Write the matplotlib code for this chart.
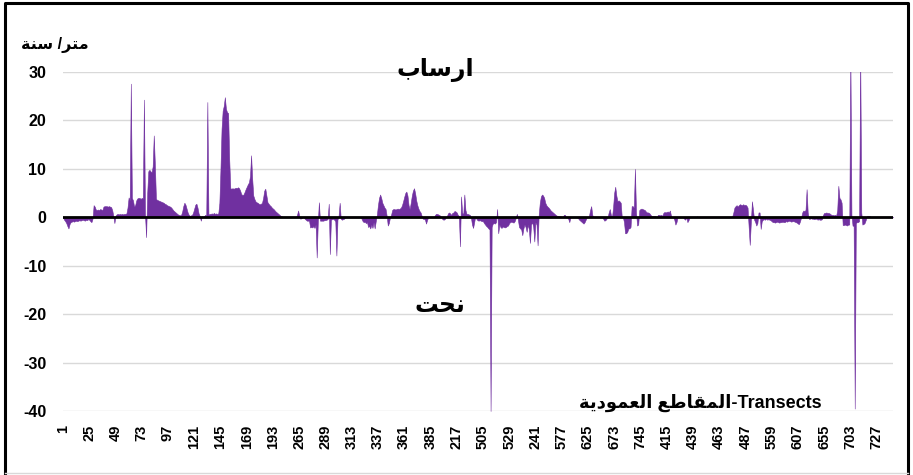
import matplotlib.pyplot as plt
from matplotlib.lines import Line2D
import numpy as np

plt.rcParams['font.family'] = ['Liberation Sans', 'DejaVu Sans']
plt.rcParams['font.weight'] = 'bold'
plt.rcParams['axes.unicode_minus'] = False

# x tick labels (transect numbers, every 24th position)
tick_labels = ["1", "25", "49", "73", "97", "121", "145", "169", "193", "265",
               "289", "313", "337", "361", "385", "217", "505", "529", "241",
               "577", "625", "673", "745", "415", "439", "463", "487", "559",
               "607", "655", "703", "727"]

# shoreline change rate (m/year), one value per transect position, rows of 24
rate = [
    0.0, -0.5, -0.8, -1.2, -1.8, -2.3, -1.4, -1.0, -0.9, -0.8, -0.9, -0.8, -0.7, -0.8, -0.7, -0.6, -0.7, -0.6, -0.5, -0.6, -0.7, -0.5, -0.6, -0.4,
    -0.5, -0.8, -1.0, -0.3, 2.5, 2.2, 1.6, 1.5, 1.6, 1.5, 1.7, 1.6, 1.5, 2.2, 2.3, 2.3, 2.3, 2.2, 2.3, 2.2, 2.1, 1.5, 0.3, -1.2,
    0.3, 0.6, 0.7, 0.6, 0.7, 0.6, 0.7, 0.6, 0.7, 0.7, 0.8, 2.0, 4.1, 3.5, 27.6, 4.0, 3.5, 2.2, 2.5, 3.5, 3.9, 4.0, 4.0, 3.8,
    4.0, 3.9, 24.3, 0.5, -4.1, 5.0, 9.5, 9.8, 9.5, 9.3, 10.5, 16.9, 11.0, 3.8, 3.6, 3.5, 3.4, 3.3, 3.2, 3.1, 3.0, 2.8, 2.7, 2.5,
    2.4, 2.3, 2.2, 2.0, 1.7, 1.4, 1.2, 1.0, 0.8, 0.6, 0.5, 0.4, 0.5, 1.2, 2.3, 3.0, 2.6, 1.8, 1.0, 0.5, 0.3, 0.4, 0.5, 1.0,
    1.8, 2.6, 2.8, 2.0, 0.8, 0.3, -0.7, 0.2, 0.1, 0.2, 0.5, 0.3, 23.8, 0.5, 0.7, 0.7, 0.8, 0.7, 0.9, 0.7, 0.8, 0.7, 0.8, 3.0,
    10.0, 18.3, 22.0, 23.0, 24.8, 22.4, 21.7, 21.5, 12.0, 6.0, 5.9, 6.0, 5.9, 6.0, 6.1, 6.0, 6.2, 6.0, 5.5, 4.8, 4.6, 4.7, 5.2, 5.8,
    6.3, 6.8, 7.2, 8.5, 12.8, 8.0, 4.5, 3.8, 3.3, 3.1, 3.0, 2.8, 2.7, 2.8, 3.0, 4.0, 5.5, 5.9, 4.5, 3.1, 2.8, 2.5, 2.3, 2.0,
    1.8, 1.6, 1.3, 1.1, 0.9, 0.7, 0.5, 0.3, 0.2, 0.1, 0.0, 0.0, 0.0, 0.0, 0.0, 0.0, 0.0, 0.0, 0.0, 0.0, 0.0, 0.0, 0.5, 1.4,
    0.3, -0.3, -0.2, 0.0, 0.1, -0.3, -0.5, -0.7, -0.7, -0.7, -2.1, -2.0, -2.1, -1.8, -2.2, -1.5, -8.3, -1.0, 3.1, -0.7, -0.7, -0.7, -0.7, -0.6,
    -0.6, -0.5, -0.4, 2.8, -7.6, -0.5, -0.4, -0.3, -0.5, -0.8, -7.9, -0.5, 0.3, 3.0, -0.3, -0.5, -0.4, -0.3, 0.0, 0.0, 0.0, 0.0, 0.0, 0.0,
    0.0, 0.0, 0.0, 0.0, 0.0, 0.0, 0.0, 0.0, 0.0, -0.3, -0.8, -1.0, -0.9, -1.2, -1.0, -2.0, -1.8, -2.3, -1.5, -2.2, -1.0, -2.3, -0.8, 0.5,
    2.5, 4.0, 4.7, 4.0, 3.0, 2.5, 2.0, 1.7, 0.3, -1.7, -1.2, 0.0, 0.5, 1.5, 1.7, 1.7, 1.6, 1.7, 1.8, 1.7, 1.8, 2.0, 2.5, 3.3,
    4.2, 5.0, 5.3, 4.5, 2.5, 1.7, 3.0, 4.5, 5.5, 6.0, 5.0, 3.5, 2.5, 1.8, 1.3, 1.0, 0.3, -0.3, -0.3, -0.5, -1.3, -0.5, 0.0, 0.0,
    0.0, 0.0, 0.0, 0.0, 0.4, 0.7, 0.7, 0.6, 0.5, 0.3, 0.0, -0.4, -0.5, -0.4, 0.0, 0.2, 0.8, 1.0, 0.8, 0.5, 0.9, 1.0, 1.3, 1.2,
    1.0, 0.5, 0.3, -6.0, 4.3, 1.0, 0.5, 4.7, 1.5, 0.7, 0.7, 0.6, 0.5, 0.0, -1.5, -2.2, -1.0, 0.2, -0.3, -0.6, -0.7, -0.6, -0.7, -0.8,
    -0.8, -1.2, -1.5, -1.8, -2.0, -2.3, -2.5, -40.0, -2.0, -1.3, -1.2, -1.3, -1.0, 1.7, -3.3, -1.5, -2.0, -2.2, -1.9, -2.0, -2.1, -2.0, -1.8, -1.7,
    -1.2, -1.0, -0.9, -1.0, -1.1, -0.8, -0.2, 0.7, -0.5, -2.0, -2.3, -2.5, -3.7, -2.3, -1.5, -2.0, -3.0, -1.5, -2.5, -5.3, -1.5, -1.0, -2.0, -5.0,
    -1.0, -1.5, -5.8, 0.5, 3.0, 4.3, 4.7, 4.5, 4.0, 3.0, 2.5, 2.2, 2.0, 1.7, 1.4, 1.2, 1.0, 0.8, 0.6, 0.4, 0.3, 0.3, 0.2, 0.2,
    0.1, 0.0, 0.5, 0.5, 0.0, 0.0, -0.3, -1.0, 0.0, 0.0, 0.0, 0.0, 0.0, 0.0, 0.0, -0.2, -0.5, -0.7, -0.9, -1.1, -1.3, -1.0, -0.5, 0.0,
    0.0, 0.3, 1.5, 2.3, 0.5, 0.0, 0.0, 0.0, 0.0, 0.0, 0.0, 0.0, 0.0, 0.0, -0.3, -0.7, -0.6, -0.3, 0.0, 1.0, 1.7, 0.5, 0.0, 2.0,
    5.0, 6.3, 4.5, 3.3, 3.5, 3.3, 3.0, 0.0, 0.0, -1.0, -3.3, -3.3, -3.0, -2.3, -2.3, -2.0, 2.3, 2.3, 2.0, 10.0, 1.0, -1.7, -1.5, 1.5,
    1.7, 1.8, 1.7, 1.6, 1.5, 1.2, 1.0, 1.0, 0.9, 0.6, 0.3, 0.3, 0.2, 0.3, 0.2, 0.0, 0.5, 0.5, 0.4, 0.5, 0.3, 0.9, 1.1, 1.0,
    1.1, 1.2, 1.0, 1.4, 0.3, 0.0, 0.0, -0.5, -1.5, -1.0, 0.0, 0.0, 0.0, 0.0, 0.0, 0.0, -0.3, -0.5, 0.0, -1.0, -0.6, 0.0, 0.0, 0.0,
    0.0, 0.0, 0.0, 0.0, 0.2, 0.0, 0.0, 0.0, 0.0, 0.0, 0.0, 0.0, 0.0, 0.0, 0.0, 0.0, 0.0, 0.0, 0.0, 0.0, 0.0, 0.0, 0.0, 0.0,
    0.0, 0.0, 0.0, 0.0, 0.0, 0.0, 0.0, 0.0, 0.0, 0.0, 0.0, 0.0, 0.2, 1.0, 2.0, 2.3, 2.5, 2.2, 2.5, 2.7, 2.6, 2.5, 2.7, 2.5,
    2.6, 2.4, 2.0, -2.0, -5.7, -1.0, 3.3, 1.5, -0.5, -1.0, -1.7, -1.2, 1.0, 1.0, -2.4, -0.8, -0.5, -0.4, -0.5, -0.3, -0.5, -0.4, -0.5, -0.6,
    -0.8, -1.0, -1.0, -1.1, -1.0, -0.9, -1.0, -1.1, -1.0, -1.0, -0.9, -1.0, -1.0, -0.8, -0.9, -0.8, -0.7, -0.8, -0.9, -0.8, -0.8, -0.9, -1.0, -1.1,
    -1.3, -1.4, -0.8, 0.0, 1.0, 1.4, 1.3, 1.5, 5.8, 1.0, -0.3, -0.3, -0.2, -0.3, -0.3, -0.4, -0.3, -0.3, -0.5, -0.4, -0.5, -0.5, -0.4, 0.5,
    0.9, 0.9, 1.0, 0.9, 0.9, 0.8, 0.6, 0.5, 0.5, 0.4, 0.5, 0.3, 1.5, 6.5, 4.0, 3.7, 3.0, -1.6, -1.6, -1.5, -1.6, -1.7, -1.5, -1.5,
    34.0, 0.5, -1.7, -1.8, -39.5, -1.2, -1.0, -1.0, -0.8, 34.0, 1.0, -1.5, -1.4, -1.2, -0.6, 0.2, 0.3, 0.3, 0.2, 0.0, 0.0, 0.0, 0.0, 0.0,
    0.0, 0.0, 0.0, 0.0, 0.0, 0.0, 0.0, 0.0, 0.0, 0.0, 0.0, 0.0, 0.0, 0.0, 0.0, 0.0,
]

# Arabic contextual forms (isolated, final, initial, medial); matplotlib does not shape Arabic
AR_FORMS = {
    'ا': ('\uFE8D', '\uFE8E', None, None),
    'ب': ('\uFE8F', '\uFE90', '\uFE91', '\uFE92'),
    'ة': ('\uFE93', '\uFE94', None, None),
    'ت': ('\uFE95', '\uFE96', '\uFE97', '\uFE98'),
    'ح': ('\uFEA1', '\uFEA2', '\uFEA3', '\uFEA4'),
    'د': ('\uFEA9', '\uFEAA', None, None),
    'ر': ('\uFEAD', '\uFEAE', None, None),
    'س': ('\uFEB1', '\uFEB2', '\uFEB3', '\uFEB4'),
    'ط': ('\uFEC1', '\uFEC2', '\uFEC3', '\uFEC4'),
    'ع': ('\uFEC9', '\uFECA', '\uFECB', '\uFECC'),
    'ق': ('\uFED5', '\uFED6', '\uFED7', '\uFED8'),
    'ل': ('\uFEDD', '\uFEDE', '\uFEDF', '\uFEE0'),
    'م': ('\uFEE1', '\uFEE2', '\uFEE3', '\uFEE4'),
    'ن': ('\uFEE5', '\uFEE6', '\uFEE7', '\uFEE8'),
    'و': ('\uFEED', '\uFEEE', None, None),
    'ي': ('\uFEF1', '\uFEF2', '\uFEF3', '\uFEF4'),
}


def ar(text):
    out = []
    for k, ch in enumerate(text):
        if ch not in AR_FORMS:
            out.append(ch)
            continue
        prev = text[k - 1] if k > 0 else ''
        nxt = text[k + 1] if k + 1 < len(text) else ''
        iso, fin, ini, med = AR_FORMS[ch]
        join_prev = prev in AR_FORMS and AR_FORMS[prev][2] is not None
        join_next = nxt in AR_FORMS and ini is not None
        if join_prev and join_next:
            out.append(med)
        elif join_prev:
            out.append(fin)
        elif join_next:
            out.append(ini)
        else:
            out.append(iso)
    return ''.join(reversed(out))


W, H = 913, 475
x = np.arange(len(rate))

fig = plt.figure(figsize=(W / 100, H / 100), dpi=100)
ax = fig.add_axes([63 / W, 1 - 411 / H, 830 / W, 339 / H])

ax.fill_between(x, 0, rate, color='#7030A0', lw=0.4)
ax.axhline(0, color='black', lw=2)

ax.set_xlim(0, len(rate) - 1)
ax.set_ylim(-40, 30)
ax.set_yticks(range(-40, 31, 10))
ax.grid(axis='y', color='#d9d9d9', lw=1)
ax.set_axisbelow(True)
for s in ax.spines.values():
    s.set_visible(False)
ax.tick_params(length=0)
ax.tick_params(axis='y', pad=12, labelsize=11.5)
ax.set_xticks(x[::24])
ax.set_xticklabels(tick_labels, rotation=90, fontsize=10.5)
ax.tick_params(axis='x', pad=10)

# annotations
fig.text(55 / W, 1 - 45 / H, ar('متر/ سنة'), fontsize=11.5, ha='center', va='center')
fig.text(435 / W, 1 - 70 / H, ar('ارساب'), fontsize=17, ha='center', va='center')
fig.text(440 / W, 1 - 305 / H, ar('نحت'), fontsize=17, ha='center', va='center')
fig.text(700 / W, 1 - 403 / H, ar('المقاطع العمودية') + '-Transects', fontsize=13,
         ha='center', va='center')

# outer frame: black left/top/right, light grey bottom edge
fig.add_artist(Line2D([4.5 / W, 4.5 / W, 908 / W, 908 / W], [0, 1 - 3 / H, 1 - 3 / H, 0],
                      transform=fig.transFigure, color='black', lw=2.2))
fig.add_artist(Line2D([4.5 / W, 908 / W], [1 - 473 / H, 1 - 473 / H],
                      transform=fig.transFigure, color='#d9d9d9', lw=1))

fig.savefig('out.png', dpi=100)
